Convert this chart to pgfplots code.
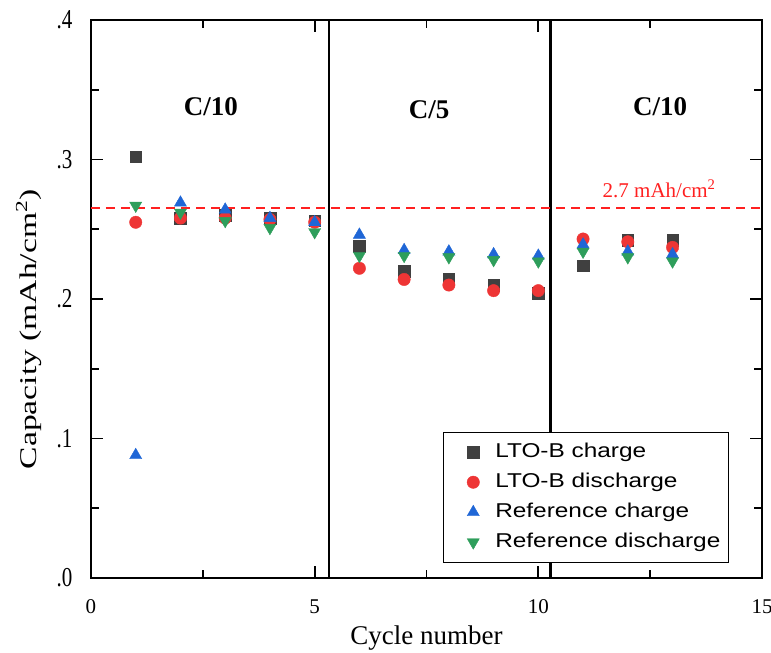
\documentclass[border=0pt]{standalone}
\usepackage{pgfplots}
\pgfplotsset{compat=1.18}
\usepackage{fontspec}
\setmainfont{Liberation Serif}
\newfontfamily\arialfont{Liberation Sans}
\definecolor{cgray}{HTML}{404040}
\definecolor{cred}{HTML}{EE3535}
\definecolor{cblue}{HTML}{1F66D6}
\definecolor{cgreen}{HTML}{2E9E5B}
\definecolor{cline}{HTML}{FF2020}
\newcommand{\ytl}[1]{\scalebox{1}[1.3]{#1}}
\newcommand{\lgt}[1]{\scalebox{1.22}[1]{#1}}
\begin{document}
\begin{tikzpicture}
\useasboundingbox (-91pt,-75pt) rectangle (680pt,578pt);
\begin{axis}[
  at={(0,0)}, anchor=south west, scale only axis,
  width=671pt, height=558pt,
  xmin=0, xmax=15, ymin=0, ymax=4,
  xtick={0,5,10,15}, minor xtick={2.5,7.5,12.5},
  ytick={0,1,2,3,4}, yticklabels={\ytl{.0},\ytl{.1},\ytl{.2},\ytl{.3},\ytl{.4}},
  minor ytick={0.5,1.5,2.5,3.5},
  tick align=inside,
  major tick length=12pt, minor tick length=8pt,
  axis line style={line width=1.8pt},
  every tick/.style={line width=1.8pt, black},
  /pgf/number format/assume math mode=true,
  ticklabel style={font=\fontsize{21}{25}\selectfont},
  xticklabel style={yshift=-18pt},
  yticklabel style={xshift=-15pt},
  xlabel={Cycle number},
  ylabel={\scalebox{1.4}[1]{Capacity (mAh/cm\textsuperscript{2})}},
  xlabel style={at={(axis description cs:0.5,-0.1075)}, anchor=center, font=\fontsize{27}{32}\selectfont},
  ylabel style={at={(axis description cs:-0.093,0.446)}, anchor=center, font=\fontsize{24}{29}\selectfont},
  legend style={at={(axis description cs:0.951,0.027)}, anchor=south east,
    font=\arialfont\fontsize{20}{24}\selectfont, draw=black, line width=1.4pt,
    inner xsep=8pt, inner ysep=10pt, row sep=10pt,
    nodes={inner xsep=0pt, inner ysep=0pt, text height=15pt, text depth=5pt},
    cells={anchor=west}},
  legend image code/.code={%
    \path[draw=none] (0pt,0pt) -- (44pt,0pt);
    \draw[#1] plot coordinates {(22pt,0pt)};},
  clip=false,
]
% vertical section lines
\addplot[black, line width=2.6pt, forget plot] coordinates {(5.32,0) (5.32,4)};
\addplot[black, line width=2.6pt, forget plot] coordinates {(10.27,0) (10.27,4)};
% 2.7 reference line
\addplot[cline, line width=1.8pt, dash pattern=on 9pt off 6pt, forget plot] coordinates {(0,2.65) (15,2.65)};

\addplot[only marks, mark=square*, mark size=5.8pt, mark options={fill=cgray, draw=cgray, line width=0.4pt}]
coordinates {(1,3.02) (2,2.58) (3,2.60) (4,2.58) (5,2.56) (6,2.38) (7,2.20) (8,2.14) (9,2.10) (10,2.04) (11,2.24) (12,2.42) (13,2.42)};
\addlegendentry{\lgt{LTO-B charge}}
\addplot[only marks, mark=*, mark size=6.2pt, mark options={fill=cred, draw=cred, line width=0.4pt}]
coordinates {(1,2.55) (2,2.58) (3,2.58) (4,2.57) (5,2.55) (6,2.22) (7,2.14) (8,2.10) (9,2.06) (10,2.06) (11,2.43) (12,2.41) (13,2.37)};
\addlegendentry{\lgt{LTO-B discharge}}
\addplot[only marks, mark=triangle*, mark size=7pt, mark options={fill=cblue, draw=cblue, line width=0.4pt}]
coordinates {(1,0.88) (2,2.69) (3,2.64) (4,2.58) (5,2.55) (6,2.46) (7,2.35) (8,2.34) (9,2.32) (10,2.31) (11,2.39) (12,2.34) (13,2.32)};
\addlegendentry{\lgt{Reference charge}}
\addplot[only marks, mark=triangle*, mark size=7pt, mark options={rotate=180, fill=cgreen, draw=cgreen, line width=0.4pt}]
coordinates {(1,2.67) (2,2.62) (3,2.56) (4,2.51) (5,2.48) (6,2.31) (7,2.31) (8,2.30) (9,2.28) (10,2.27) (11,2.34) (12,2.30) (13,2.27)};
\addlegendentry{\lgt{Reference discharge}}

\node[font=\bfseries\fontsize{27}{32}\selectfont] at (axis cs:2.68,3.38) {C/10};
\node[font=\bfseries\fontsize{27}{32}\selectfont] at (axis cs:7.56,3.36) {C/5};
\node[font=\bfseries\fontsize{27}{32}\selectfont] at (axis cs:12.72,3.38) {C/10};
\node[text=cline, font=\fontsize{21}{25}\selectfont] at (axis cs:12.70,2.79) {2.7 mAh/cm\textsuperscript{2}};
\end{axis}
\end{tikzpicture}
\end{document}
